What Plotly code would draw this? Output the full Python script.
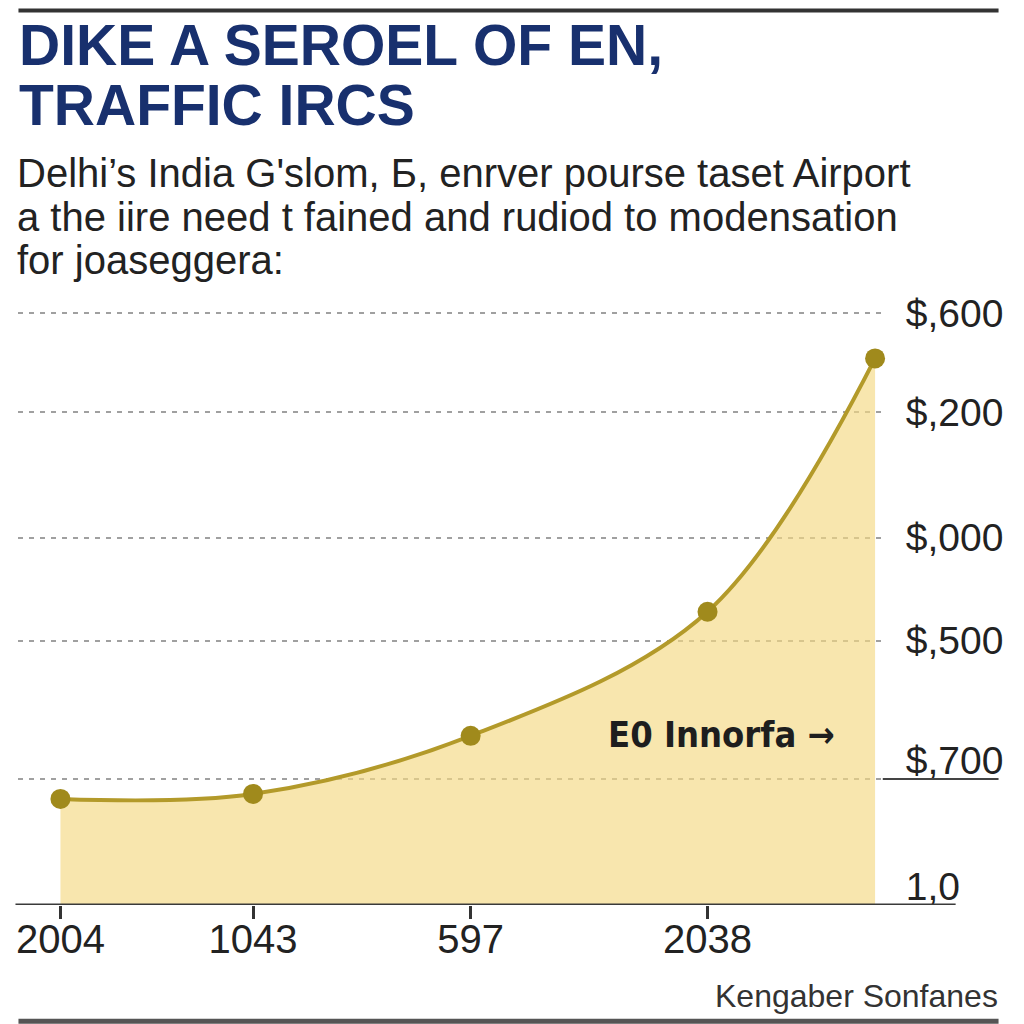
import plotly.graph_objects as go

# ---- data ----
x_pos = [0, 1, 2.13, 3.36, 4.23]
values = [106, 111, 169, 293, 546]
x_tickvals = [0, 1, 2.13, 3.36]
x_ticktext = ["2004", "1043", "597", "2038"]
grid_vals = [591, 492, 367, 264, 126]
grid_text = ["$,600", "$,200", "$,000", "$,500", ""]
low_vals = [126, 0]
low_text = ["$,700", "1,0"]

title_lines = ["DIKE A SEROEL OF EN,", "TRAFFIC IRCS"]
subtitle_lines = [
    "Delhi’s India G'slom, Б, enrver pourse taset Airport",
    "a the iire need t fained and rudiod to modensation",
    "for joaseggera:",
]
annotation_label = "E0 Innorfa"
annotation_arrow = "→"
source_text = "Kengaber Sonfanes"

FONT = "Liberation Sans, Arial, sans-serif"
NAVY = "#18306e"
DARK = "#222222"

W = H = 1024
# map target screen pixels to figure paper fractions
def px(v):
    return (v - 1.5) / W
def py(v):
    return 1 - (5 + (v - 13) / 0.988) / H

fig = go.Figure()
fig.add_trace(go.Scatter(
    x=x_pos, y=values, mode="lines+markers",
    line=dict(color="#b39a2a", width=4, shape="spline", smoothing=1.0),
    marker=dict(color="#a08a1c", size=20),
    fill="tozeroy", fillcolor="rgba(245,216,130,0.65)",
    cliponaxis=False,
    hoverinfo="skip", showlegend=False, yaxis="y",
))
fig.add_trace(go.Scatter(x=[None], y=[None], yaxis="y2", showlegend=False, hoverinfo="skip"))

fig.update_layout(
    width=W, height=H,
    margin=dict(l=0, r=0, t=0, b=0),
    paper_bgcolor="white", plot_bgcolor="white",
    xaxis=dict(
        domain=[px(18), px(884)], range=[-0.218, 4.27],
        showgrid=False, zeroline=False, showline=False,
        tickmode="array", tickvals=x_tickvals, ticktext=x_ticktext,
        ticks="outside", ticklen=13, tickwidth=3, tickcolor="#333",
        ticklabelstandoff=-14,
        tickfont=dict(family=FONT, size=40, color=DARK),
    ),
    yaxis=dict(
        domain=[py(904), py(300)], range=[0, 604],
        side="right", showline=False, zeroline=False,
        showgrid=True, gridcolor="#a0a0a0", gridwidth=2, griddash="5px,6px",
        tickmode="array", tickvals=grid_vals, ticktext=grid_text,
        ticks="", ticklabelstandoff=22,
        tickfont=dict(family=FONT, size=39, color=DARK),
    ),
    yaxis2=dict(
        domain=[py(904), py(300)], range=[0, 604], overlaying="y",
        side="right", showline=False, zeroline=False, showgrid=False,
        tickmode="array", tickvals=low_vals, ticktext=low_text,
        ticks="", ticklabelstandoff=22, ticklabelshift=-19,
        tickfont=dict(family=FONT, size=39, color=DARK),
    ),
)

shapes = [
    dict(type="line", xref="paper", yref="paper", x0=px(18), x1=px(1000), y0=py(10.5), y1=py(10.5),
         line=dict(color="#333", width=4)),
    dict(type="line", xref="paper", yref="paper", x0=px(18), x1=px(1000), y0=py(1020), y1=py(1020),
         line=dict(color="#555", width=5)),
    dict(type="line", xref="paper", yref="y", x0=px(15), x1=px(957), y0=0, y1=0,
         line=dict(color="#3a3a3a", width=3)),
    dict(type="line", xref="paper", yref="y", x0=px(884), x1=px(1000), y0=126, y1=126,
         line=dict(color="#444", width=2)),
]
fig.update_layout(shapes=shapes)

ann = []
title_y = [45, 105]
for t, yy in zip(title_lines, title_y):
    ann.append(dict(text="<b>" + t + "</b>", xref="paper", yref="paper", x=px(17), y=py(yy),
                    xanchor="left", yanchor="middle", showarrow=False,
                    font=dict(family=FONT, size=57, color=NAVY)))
sub_y = [173, 217, 260]
for t, yy in zip(subtitle_lines, sub_y):
    ann.append(dict(text=t, xref="paper", yref="paper", x=px(15), y=py(yy),
                    xanchor="left", yanchor="middle", showarrow=False,
                    font=dict(family=FONT, size=40, color=DARK)))
ann.append(dict(text="<b>" + annotation_label + " " + annotation_arrow + "</b>",
                xref="paper", yref="paper", x=px(607), y=py(734),
                xanchor="left", yanchor="middle", showarrow=False,
                font=dict(family="DejaVu Sans Condensed, Liberation Sans, sans-serif", size=36, color="#1e1e1e")))
ann.append(dict(text=source_text, xref="paper", yref="paper", x=px(1001), y=py(995),
                xanchor="right", yanchor="middle", showarrow=False,
                font=dict(family=FONT, size=32, color="#333")))
fig.update_layout(annotations=ann)

fig.write_html("out.html")
